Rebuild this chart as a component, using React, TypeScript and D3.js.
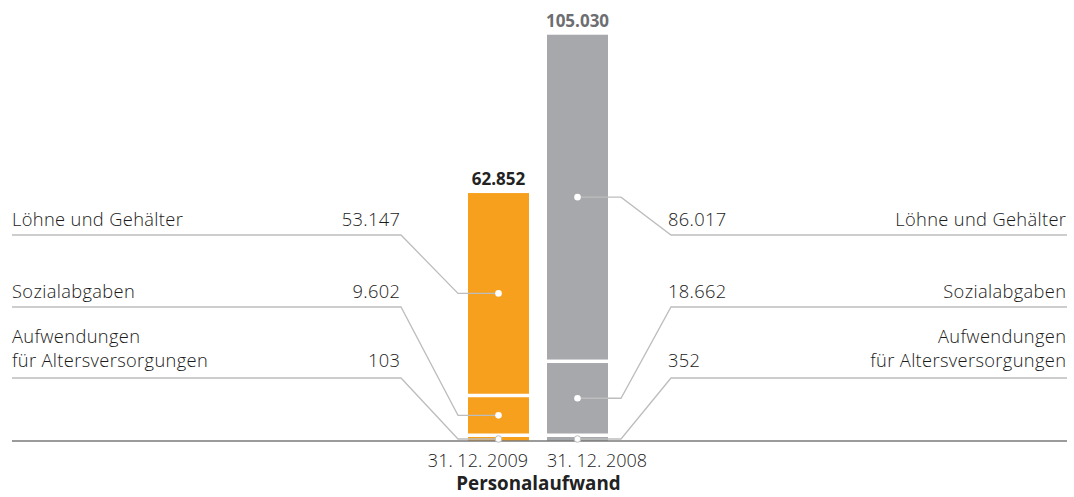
import React from "react";
import * as d3 from "d3";

const categories = ["Löhne und Gehälter", "Sozialabgaben", "Aufwendungen|für Altersversorgungen"];
const years = ["31. 12. 2009", "31. 12. 2008"];
const values2009 = [53147, 9602, 103];
const values2008 = [86017, 18662, 352];
const totals = [62852, 105030];

const W = 1074;
const H = 497;
const baseline = 441;
const labelLineY = [235, 307, 378];
const FONT = "'Open Sans', 'Noto Sans', sans-serif";
const ORANGE = "#F7A01E";
const GREY = "#A7A8AB";
const LEADER = "#BDBDBD";

const locale = d3.formatLocale({ decimal: ",", thousands: ".", grouping: [3], currency: ["", " €"] });
const fmt = locale.format(",d");

export default function App() {
  const x = d3.scaleBand<string>().domain(years).range([468, 608]).paddingInner(0.228).paddingOuter(0);
  const h = d3.scaleLinear().domain([0, 100000]).range([0, 377.6]);
  const gap = 3.5;
  const minH = 4;

  const series = [values2009, values2008];
  const colors = [ORANGE, GREY];

  const bars = series.map((vals, bi) => {
    let pos = baseline;
    const segs: { cat: number; y0: number; y1: number; v: number }[] = [];
    for (let i = vals.length - 1; i >= 0; i--) {
      const hh = Math.max(h(vals[i]), minH);
      segs.push({ cat: i, y0: pos - hh, y1: pos, v: vals[i] });
      pos = pos - hh - gap;
    }
    return { year: years[bi], segs, top: segs[segs.length - 1].y0, color: colors[bi] };
  });

  const leftEnd = 12;
  const rightEnd = 1067;
  const leftBend = 401;
  const rightBend = 671;
  const ls = 0.35;

  return (
    <svg width={W} height={H} style={{ position: "absolute", left: 0, top: 0, background: "#fff" }} fontFamily={FONT}>
      {bars.map((b, bi) => (
        <g key={b.year}>
          {b.segs.map((s) => (
            <rect key={s.cat} x={x(b.year)} y={s.y0} width={x.bandwidth()} height={s.y1 - s.y0} fill={b.color} />
          ))}
          <text
            x={(x(b.year) as number) + x.bandwidth() / 2}
            y={b.top - 8}
            textAnchor="middle"
            fontWeight={700}
            fontSize={17}
            fill={bi === 0 ? "#222" : "#6D6E71"}
          >
            {fmt(totals[bi])}
          </text>
        </g>
      ))}

      <line x1={12} x2={1067} y1={baseline} y2={baseline} stroke="#7A7A7A" strokeWidth={1.5} />

      {bars.map((b, bi) => {
        const cx = (x(b.year) as number) + x.bandwidth() / 2;
        const left = bi === 0;
        const stubX = left ? (x(b.year) as number) - 10 : (x(b.year) as number) + x.bandwidth() + 13;
        return b.segs.map((s) => {
          const cy = (s.y0 + s.y1) / 2;
          const ly = labelLineY[s.cat];
          const pts: [number, number][] = left
            ? [[cx, cy], [stubX, cy], [leftBend, ly], [leftEnd, ly]]
            : [[cx, cy], [stubX, cy], [rightBend, ly], [rightEnd, ly]];
          const small = s.y1 - s.y0 < 8;
          return (
            <g key={b.year + s.cat}>
              <path d={d3.line()(pts) as string} fill="none" stroke={LEADER} strokeWidth={1.3} />
              <circle cx={cx} cy={cy} r={3.3} fill="#fff" stroke={small ? LEADER : "none"} strokeWidth={1} />
            </g>
          );
        });
      })}

      {categories.map((c, i) => {
        const lines = c.split("|");
        const ly = labelLineY[i];
        const textY = ly - 9 - (lines.length - 1) * 2;
        const lh = 24;
        return (
          <g key={c} fontSize={18.3} fontWeight={300} fill="#1a1a1a" letterSpacing={ls}>
            {lines.map((ln, li) => (
              <text key={"l" + li} x={leftEnd} y={textY - (lines.length - 1 - li) * lh}>
                {ln}
              </text>
            ))}
            {lines.map((ln, li) => (
              <text key={"r" + li} x={rightEnd + ls - 1} y={textY - (lines.length - 1 - li) * lh} textAnchor="end">
                {ln}
              </text>
            ))}
            <text x={leftBend + ls - 1} y={textY} textAnchor="end">
              {fmt(values2009[i])}
            </text>
            <text x={rightBend - 3} y={textY} textAnchor="start">
              {fmt(values2008[i])}
            </text>
          </g>
        );
      })}

      <text x={(x(years[0]) as number) + x.bandwidth() - 1} y={467} textAnchor="end" fontSize={18} fontWeight={300} fill="#1a1a1a">
        {years[0]}
      </text>
      <text x={x(years[1]) as number} y={467} textAnchor="start" fontSize={18} fontWeight={300} fill="#1a1a1a">
        {years[1]}
      </text>
      <text x={538.5} y={490} textAnchor="middle" fontSize={18.8} fontWeight={700} fill="#222">
        Personalaufwand
      </text>
    </svg>
  );
}
